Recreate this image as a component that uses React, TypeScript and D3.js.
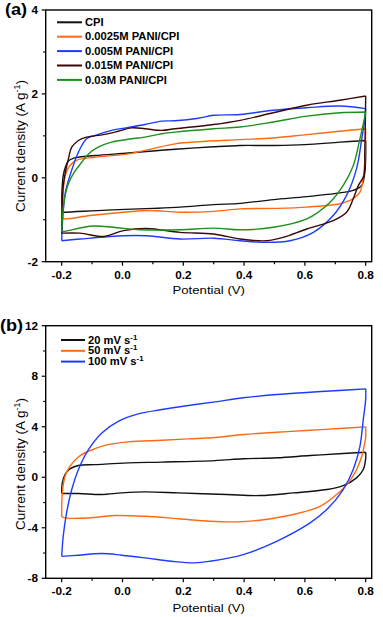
import React from 'react';
import * as d3 from 'd3';

type Pt = [number, number];

// axis ticks
const xTicks = [-0.2, 0, 0.2, 0.4, 0.6, 0.8];
const xMinor = [-0.1, 0.1, 0.3, 0.5, 0.7];
const aYTicks = [-2, 0, 2, 4];
const aYMinor = [-1, 1, 3];
const bYTicks = [-8, -4, 0, 4, 8, 12];
const bYMinor = [-6, -2, 2, 6, 10];

// panel (a) – CV loops, [potential V, current A/g], forward scan then reverse scan
const cpi: Pt[] = [
  [-0.2, -0.82], [-0.199, -0.3], [-0.195, 0.05], [-0.188, 0.25], [-0.178, 0.4], [-0.16, 0.47],
  [-0.145, 0.49], [-0.09, 0.53], [0.019, 0.59], [0.1, 0.64], [0.173, 0.68], [0.3, 0.74],
  [0.387, 0.77], [0.5, 0.77], [0.6, 0.79], [0.715, 0.85], [0.8, 0.89],
  [0.8, 0.5], [0.797, 0.13], [0.787, -0.18], [0.759, -0.3], [0.715, -0.36], [0.606, -0.45],
  [0.496, -0.52], [0.387, -0.61], [0.3, -0.64], [0.189, -0.7], [0.1, -0.73], [-0.052, -0.77],
  [-0.189, -0.82], [-0.2, -0.82],
];
const pani0025: Pt[] = [
  [-0.2, -0.95], [-0.197, -0.5], [-0.192, -0.1], [-0.184, 0.15], [-0.172, 0.3], [-0.15, 0.42],
  [-0.09, 0.49], [0.019, 0.57], [0.096, 0.69], [0.173, 0.81], [0.25, 0.86], [0.387, 0.91],
  [0.496, 0.95], [0.606, 1.03], [0.715, 1.11], [0.8, 1.17],
  [0.799, 0.8], [0.796, 0.3], [0.781, -0.34], [0.748, -0.54], [0.715, -0.62], [0.606, -0.7],
  [0.496, -0.73], [0.387, -0.74], [0.3, -0.8], [0.189, -0.82], [0.09, -0.78], [0.003, -0.82],
  [-0.107, -0.9], [-0.19, -0.98], [-0.2, -0.95],
];
const pani005: Pt[] = [
  [-0.2, -1.5], [-0.196, -0.9], [-0.188, -0.35], [-0.173, 0.05], [-0.145, 0.61], [-0.118, 0.93],
  [-0.09, 1.01], [-0.036, 1.13], [0.019, 1.2], [0.074, 1.27], [0.129, 1.35], [0.173, 1.36],
  [0.25, 1.42], [0.3, 1.49], [0.387, 1.51], [0.496, 1.61], [0.606, 1.67], [0.715, 1.71], [0.8, 1.65],
  [0.795, 1.3], [0.787, 0.93], [0.77, 0.22], [0.737, -0.42], [0.693, -0.9], [0.628, -1.3],
  [0.551, -1.5], [0.474, -1.54], [0.387, -1.5], [0.3, -1.44], [0.189, -1.46], [0.08, -1.38],
  [0.003, -1.38], [-0.14, -1.46], [-0.2, -1.5],
];
const pani015: Pt[] = [
  [-0.2, -1.32], [-0.198, -0.6], [-0.195, -0.2], [-0.19, 0.05], [-0.178, 0.45], [-0.167, 0.73],
  [-0.145, 0.89], [-0.118, 0.97], [-0.063, 1.03], [-0.014, 1.11], [0.03, 1.19], [0.074, 1.17],
  [0.129, 1.13], [0.173, 1.17], [0.3, 1.27], [0.387, 1.37], [0.496, 1.55], [0.606, 1.73],
  [0.715, 1.85], [0.8, 1.95],
  [0.799, 1.4], [0.797, 0.6], [0.794, 0.05], [0.776, -0.18], [0.759, -0.5], [0.737, -0.82],
  [0.693, -1.02], [0.606, -1.22], [0.529, -1.42], [0.474, -1.5], [0.387, -1.46], [0.3, -1.34],
  [0.189, -1.3], [0.08, -1.21], [0.003, -1.26], [-0.063, -1.4], [-0.14, -1.32], [-0.2, -1.32],
];
const pani03: Pt[] = [
  [-0.2, -1.28], [-0.196, -0.8], [-0.188, -0.4], [-0.178, -0.14], [-0.16, 0.12], [-0.134, 0.37],
  [-0.112, 0.57], [-0.08, 0.73], [-0.036, 0.85], [0.019, 0.92], [0.074, 0.97], [0.129, 1.05],
  [0.173, 1.09], [0.3, 1.17], [0.387, 1.21], [0.496, 1.33], [0.606, 1.47], [0.715, 1.55], [0.8, 1.57],
  [0.797, 1.45], [0.781, 0.93], [0.759, 0.29], [0.726, -0.18], [0.683, -0.58], [0.606, -0.98],
  [0.496, -1.18], [0.387, -1.24], [0.3, -1.2], [0.189, -1.24], [0.058, -1.24], [-0.03, -1.18],
  [-0.096, -1.15], [-0.195, -1.28], [-0.2, -1.28],
];

// panel (b) – scan rates
const rate20: Pt[] = [
  [-0.2, -1.29], [-0.198, -0.45], [-0.189, 0.21], [-0.173, 0.66], [-0.145, 0.93], [-0.09, 1.0],
  [0.019, 1.14], [0.129, 1.2], [0.304, 1.32], [0.397, 1.46], [0.507, 1.54], [0.617, 1.72],
  [0.726, 1.88], [0.8, 1.98],
  [0.8, 1.5], [0.792, 0.61], [0.77, -0.05], [0.726, -0.66], [0.672, -0.97], [0.562, -1.24],
  [0.452, -1.45], [0.343, -1.37], [0.184, -1.24], [0.074, -1.16], [-0.003, -1.24], [-0.068, -1.37],
  [-0.145, -1.29], [-0.2, -1.29],
];
const rate50: Pt[] = [
  [-0.2, -3.1], [-0.198, -1.24], [-0.189, 0.08], [-0.173, 0.87], [-0.145, 1.61], [-0.112, 2.06],
  [-0.058, 2.53], [0.019, 2.8], [0.129, 2.93], [0.216, 3.04], [0.304, 3.15], [0.397, 3.38],
  [0.507, 3.56], [0.617, 3.72], [0.726, 3.88], [0.8, 3.99],
  [0.8, 3.2], [0.797, 2.72], [0.787, 1.66], [0.77, 0.61], [0.743, -0.44], [0.704, -1.37],
  [0.65, -2.3], [0.562, -2.95], [0.452, -3.4], [0.376, -3.53], [0.288, -3.48], [0.184, -3.29],
  [0.074, -3.09], [-0.025, -3.03], [-0.112, -3.22], [-0.189, -3.22], [-0.2, -3.1],
];
const rate100: Pt[] = [
  [-0.2, -6.26], [-0.195, -4.67], [-0.184, -2.82], [-0.167, -0.97], [-0.145, 0.61], [-0.112, 2.19],
  [-0.068, 3.51], [-0.014, 4.43], [0.052, 5.02], [0.129, 5.36], [0.216, 5.68], [0.304, 5.97],
  [0.397, 6.29], [0.507, 6.55], [0.617, 6.73], [0.726, 6.89], [0.8, 7.0],
  [0.8, 6.2], [0.792, 4.57], [0.781, 2.45], [0.759, 0.61], [0.726, -0.97], [0.672, -2.56],
  [0.617, -3.61], [0.507, -5.07], [0.397, -6.12], [0.288, -6.65], [0.238, -6.78], [0.162, -6.65],
  [0.074, -6.38], [-0.003, -6.17], [-0.068, -6.04], [-0.145, -6.17], [-0.2, -6.26],
];

const aLabels = ['CPI', '0.0025M PANI/CPI', '0.005M PANI/CPI', '0.015M PANI/CPI', '0.03M PANI/CPI'];
const bRates = ['20', '50', '100'];

const FONT = "'Liberation Sans', Arial, Helvetica, sans-serif";
const BLACK = '#111';
const ORANGE = '#ff6a14';
const BLUE = '#1e3cff';
const BROWN = '#3a0808';
const GREEN = '#1a921a';

const L = 45.7;
const R = 371.7;
const x = d3.scaleLinear().domain([-0.2, 0.8]).range([61.7, 365.7]);

function SText(props: any) {
  const { x, y, size, bold, anchor, sx = 1.12, children } = props;
  return (
    <g transform={`translate(${x},${y}) scale(${sx},1)`}>
      <text fontSize={size} fontWeight={bold ? 'bold' : 'normal'} textAnchor={anchor || 'start'}
        fontFamily={FONT} fill="#000">{children}</text>
    </g>
  );
}

// split a loop at the switching potential so the corner stays sharp
function branches(data: Pt[]): Pt[][] {
  const vmax = d3.max(data, d => d[0]) as number;
  const k = data.findIndex(d => d[0] >= vmax - 1e-9);
  return [data.slice(0, k + 1), data.slice(k)];
}

function Panel(props: any) {
  const { top, bottom, yDomain, yTicks, yMinor, series, tag, tagY, legend, titleY, xTitleY } = props;
  const y = d3.scaleLinear().domain(yDomain).range([bottom, top]);
  const line = d3.line<Pt>().x(d => x(d[0])).y(d => y(d[1])).curve(d3.curveCatmullRom.alpha(0.5));
  return (
    <g>
      {series.map((s: any, i: number) => (
        <path key={i} d={branches(s.data).map(b => line(b) || '').join('')} fill="none"
          stroke={s.color} strokeWidth={1.4} strokeLinejoin="round" />
      ))}
      <rect x={L} y={top} width={R - L} height={bottom - top} fill="none" stroke="#000" strokeWidth={1.4} />
      {xTicks.map(t => (
        <g key={t}>
          <line x1={x(t)} x2={x(t)} y1={bottom} y2={bottom + 4} stroke="#000" strokeWidth={1.2} />
          <SText x={x(t)} y={bottom + 17} size={10.5} bold anchor="middle">{t.toFixed(1)}</SText>
        </g>
      ))}
      {xMinor.map(t => (
        <line key={t} x1={x(t)} x2={x(t)} y1={bottom} y2={bottom + 2.5} stroke="#000" strokeWidth={1.2} />
      ))}
      {yTicks.map((t: number) => (
        <g key={t}>
          <line x1={L - 4} x2={L} y1={y(t)} y2={y(t)} stroke="#000" strokeWidth={1.2} />
          <SText x={38} y={y(t) + 3.8} size={10.5} bold anchor="end">{t}</SText>
        </g>
      ))}
      {yMinor.map((t: number) => (
        <line key={t} x1={L - 2.5} x2={L} y1={y(t)} y2={y(t)} stroke="#000" strokeWidth={1.2} />
      ))}
      <SText x={tag[0]} y={tagY} size={16.5} bold sx={1.1}>{tag[1]}</SText>
      <SText x={(L + R) / 2} y={xTitleY} size={11} anchor="middle" sx={1.2}>Potential (V)</SText>
      <text transform={`translate(25,${titleY}) rotate(-90)`} textAnchor="middle" fontSize={13.5}
        fontFamily={FONT} fill="#000">
        Current density (A g<tspan dy={-5} fontSize={9}>-1</tspan><tspan dy={5}>)</tspan>
      </text>
      {series.map((s: any, i: number) => (
        <g key={'lg' + i}>
          <line x1={legend.x1} x2={legend.x2} y1={legend.y + i * legend.dy} y2={legend.y + i * legend.dy}
            stroke={s.color} strokeWidth={2} />
          <SText x={legend.tx} y={legend.y + i * legend.dy + 3.6} size={10} bold>{s.label}</SText>
        </g>
      ))}
    </g>
  );
}

export default function App() {
  const aColors = [BLACK, ORANGE, BLUE, BROWN, GREEN];
  const aSeries = [cpi, pani0025, pani005, pani015, pani03].map((d, i) => ({
    data: d, color: aColors[i], label: aLabels[i],
  }));
  const bColors = [BLACK, ORANGE, BLUE];
  const bSeries = [rate20, rate50, rate100].map((d, i) => ({
    data: d, color: bColors[i],
    label: <>{bRates[i]} mV s<tspan dy={-4} fontSize={7}>-1</tspan></>,
  }));
  return (
    <svg width={383} height={617} style={{ position: 'absolute', left: 0, top: 0, background: '#fff' }}>
      <rect width={383} height={617} fill="#fff" />
      <Panel top={10} bottom={261.7} yDomain={[-2, 4]} yTicks={aYTicks} yMinor={aYMinor}
        series={aSeries} tag={[5, '(a)']} tagY={15} titleY={146} xTitleY={293.5}
        legend={{ x1: 57, x2: 82, tx: 85, y: 22.3, dy: 14.4 }} />
      <Panel top={325.7} bottom={578.3} yDomain={[-8, 12]} yTicks={bYTicks} yMinor={bYMinor}
        series={bSeries} tag={[0, '(b)']} tagY={331} titleY={464} xTitleY={612}
        legend={{ x1: 61, x2: 85, tx: 88, y: 340, dy: 10.8 }} />
    </svg>
  );
}
